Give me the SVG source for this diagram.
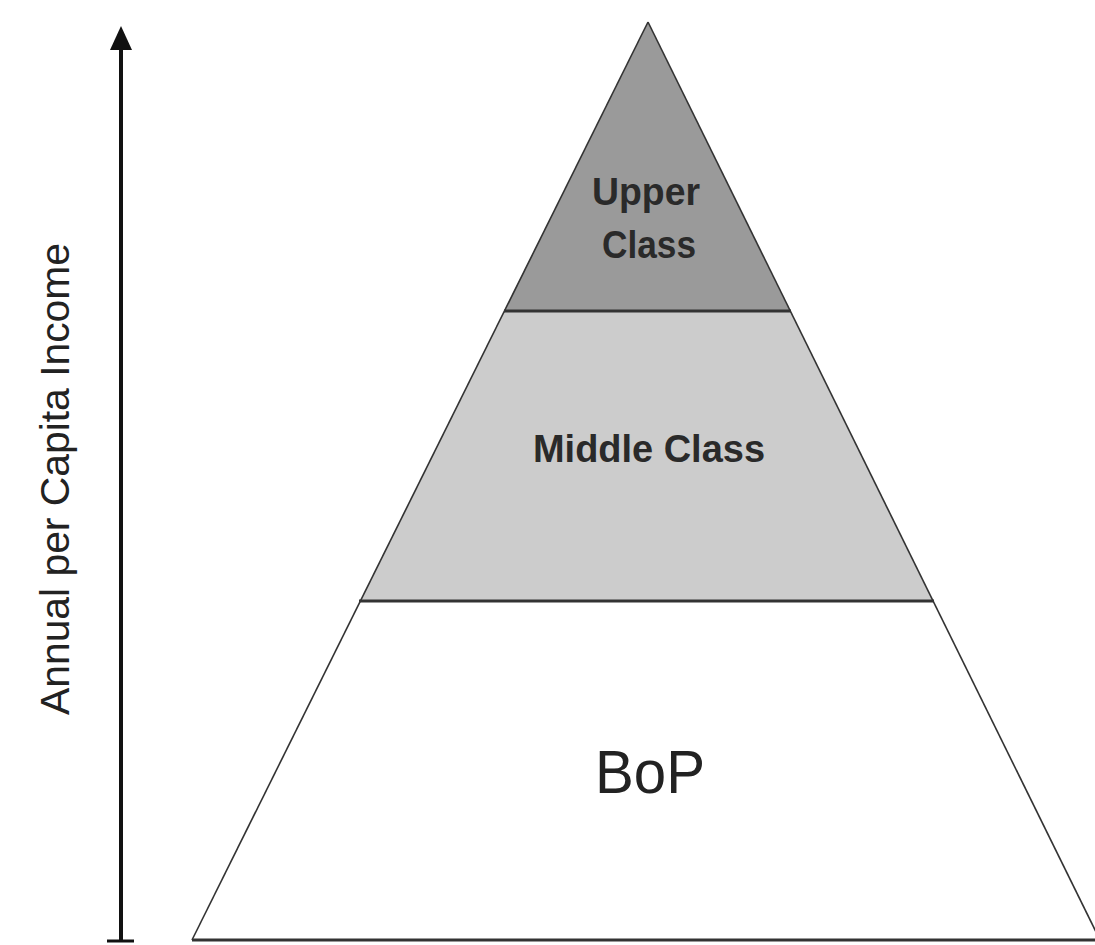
<svg xmlns="http://www.w3.org/2000/svg" width="1095" height="945" viewBox="0 0 1095 945">
<style>
.lbl{font-family:"Liberation Sans",Arial,sans-serif;fill:#222;text-anchor:middle}
.b{font-weight:bold;fill:#2a2a2a}
.side{stroke:#333;stroke-width:1.6;fill:none}
.band{stroke:#333;stroke-width:3;fill:none}
</style>
<rect width="1095" height="945" fill="#fff"/>
<g id="tier-bop">
<polygon points="360,601 933,601 1100,940 192,940" fill="#fff"/>
<text class="lbl" x="650" y="793" font-size="62" textLength="110" lengthAdjust="spacingAndGlyphs">BoP</text>
</g>
<g id="tier-middle">
<polygon points="504,311 790,311 933,601 360,601" fill="#cccccc"/>
<text class="lbl b" x="649" y="462" font-size="38" textLength="232" lengthAdjust="spacingAndGlyphs">Middle Class</text>
</g>
<g id="tier-upper">
<polygon points="648,22 790,311 504,311" fill="#9a9a9a"/>
<text class="lbl b" x="646" y="205" font-size="38" textLength="108" lengthAdjust="spacingAndGlyphs">Upper</text>
<text class="lbl b" x="649" y="258" font-size="38" textLength="94" lengthAdjust="spacingAndGlyphs">Class</text>
</g>
<g id="outline">
<line class="side" x1="648" y1="22" x2="192" y2="940"/>
<line class="side" x1="648" y1="22" x2="1100" y2="940"/>
<line class="band" x1="504" y1="311" x2="791" y2="311"/>
<line class="band" x1="359" y1="601" x2="934" y2="601"/>
<line class="band" x1="192" y1="940" x2="1095" y2="940"/>
</g>
<g id="connectors">
<line x1="121" y1="940" x2="121" y2="48" stroke="#111" stroke-width="4"/>
<polygon points="121,26 110,50 132,50" fill="#111"/>
<line x1="107" y1="941" x2="134" y2="941" stroke="#111" stroke-width="3"/>
</g>
<g id="axis-label">
<text class="lbl" transform="translate(69,479) rotate(-90)" font-size="40" textLength="472" lengthAdjust="spacingAndGlyphs">Annual per Capita Income</text>
</g>
</svg>
